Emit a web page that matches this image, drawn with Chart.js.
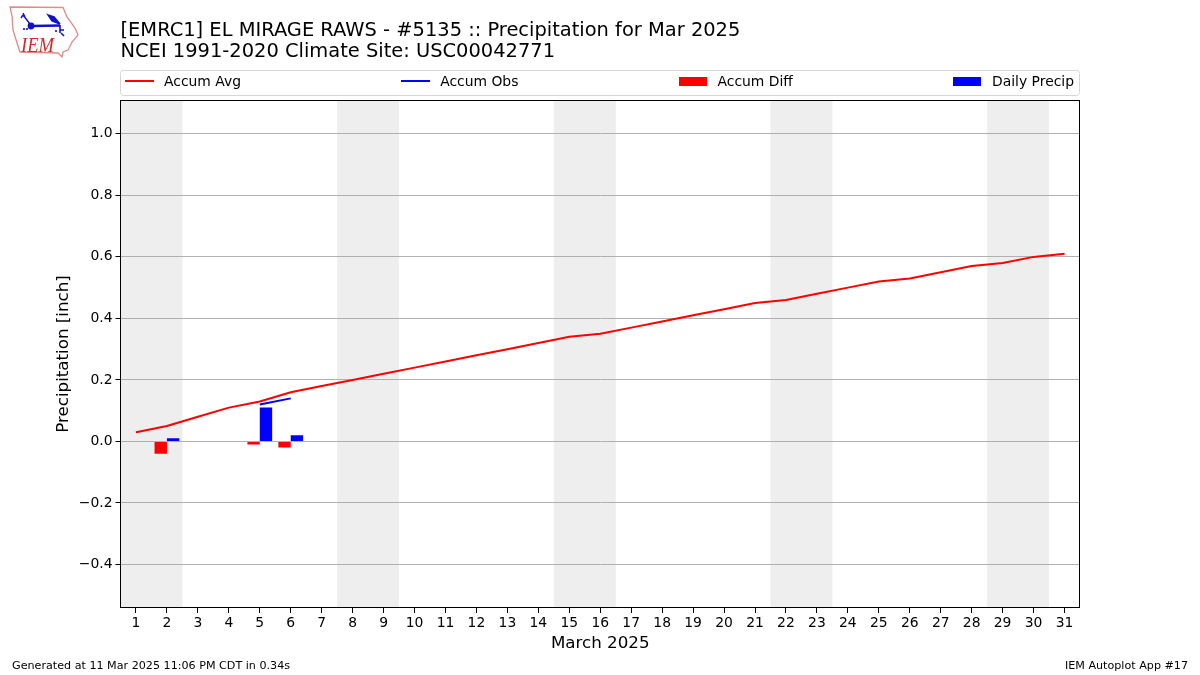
<!DOCTYPE html>
<html><head><meta charset="utf-8">
<style>html,body{margin:0;padding:0;background:#fff;overflow:hidden}#w{position:relative;width:1200px;height:675px}canvas{display:block}svg{position:absolute;left:0;top:0}</style>
<script src="https://cdn.jsdelivr.net/npm/chart.js@4"></script>
</head><body><div id="w"><canvas id="c" width="1200" height="675"></canvas>
<svg width="90" height="65" viewBox="0 0 90 65">
<path d="M10 7 L63 7.5 L67 17 L75 28 L78 35 L72 42 L68 50 L63 52 L62 57 L58 53 L20 52 L17 43 L13 30 L12 16 Z" fill="#fff" stroke="#e08a8a" stroke-width="1.3"/>
<g stroke="#1111cc" fill="#1111cc">
<path d="M32 26 L60 25.5" stroke-width="2.4"/><circle cx="31" cy="26" r="3.4" stroke="none"/>
<path d="M30 24 L23 15 M23 15 L21 18 M25 17 L23 13" stroke-width="1.4" fill="none"/>
<path d="M48 15 L54 17 L60 24 L52 21 Z" stroke-width="1.5"/>
<path d="M60 25 L60 33 M60 30 L64 30 M61 33 L64 36" stroke-width="1.6" fill="none"/>
<circle cx="24" cy="29" r="1.1" stroke="none"/><circle cx="27" cy="29" r="1.1" stroke="none"/><circle cx="56" cy="31" r="1.1" stroke="none"/>
</g>
<text x="21" y="52" font-family="Liberation Serif" font-style="italic" font-size="22" textLength="33" lengthAdjust="spacingAndGlyphs" fill="#d42a2a">IEM</text>
</svg></div>
<script>
const days = Array.from({length:31},(_, i)=>String(i+1));
const accumAvg = [0.03,0.05,0.08,0.11,0.13,0.16,0.18,0.20,0.22,0.24,0.26,0.28,0.30,0.32,0.34,0.35,0.37,0.39,0.41,0.43,0.45,0.46,0.48,0.50,0.52,0.53,0.55,0.57,0.58,0.60,0.61];
const accumObs = [null,null,null,null,0.12,0.14,null,null,null,null,null,null,null,null,null,null,null,null,null,null,null,null,null,null,null,null,null,null,null,null,null];
const accumDiff = [null,-0.04,null,null,-0.01,-0.02,null,null,null,null,null,null,null,null,null,null,null,null,null,null,null,null,null,null,null,null,null,null,null,null,null];
const dailyPrecip = [null,0.01,null,null,0.11,0.02,null,null,null,null,null,null,null,null,null,null,null,null,null,null,null,null,null,null,null,null,null,null,null,null,null];
const yTicks = [-0.4,-0.2,0,0.2,0.4,0.6,0.8,1.0];
const weekendSpans = [["1","2"],["8","9"],["15","16"],["22","23"],["29","30"]];
const titleLines = ["[EMRC1] EL MIRAGE RAWS - #5135 :: Precipitation for Mar 2025","NCEI 1991-2020 Climate Site: USC00042771"];
const footerLeft = "Generated at 11 Mar 2025 11:06 PM CDT in 0.34s";
const footerRight = "IEM Autoplot App #17";
const FONT = '"DejaVu Sans"';

const decor = {
  id:'decor',
  beforeDraw(ch){
    const {ctx,chartArea:a,scales:{x}} = ch;
    ctx.save(); ctx.fillStyle='#eeeeee';
    const band = x.getPixelForTick(1)-x.getPixelForTick(0);
    for(const [s,e] of weekendSpans){
      const x0 = Math.max(a.left, x.getPixelForValue(days.indexOf(s))-band/2);
      const x1 = x.getPixelForValue(days.indexOf(e))+band/2;
      ctx.fillRect(x0,a.top,x1-x0,a.bottom-a.top);
    }
    ctx.restore();
  },
  afterDraw(ch){
    const {ctx,chartArea:a} = ch;
    ctx.save();
    ctx.strokeStyle='#000'; ctx.lineWidth=1;
    ctx.strokeRect(120.5,100.5,959,507);
    ctx.strokeStyle='#d6d6d6'; ctx.lineWidth=1;
    ctx.beginPath(); ctx.roundRect(120.5,70.5,959,25,3); ctx.fillStyle='#fff'; ctx.fill(); ctx.stroke();
    ctx.font='13.9px '+FONT; ctx.textBaseline='middle'; ctx.textAlign='left';
    const itemsW = ch.data.datasets.map(d=>29+9+ctx.measureText(d.label).width);
    const total = itemsW.reduce((p,c)=>p+c,0);
    const gap = (1080-6 - 126 - total)/3;
    let cx = 126;
    ch.data.datasets.forEach((d,i)=>{
      const hx = Math.round(cx)-1;
      if(d.type==='line'){ ctx.strokeStyle=d.borderColor; ctx.lineWidth=2; ctx.beginPath(); ctx.moveTo(hx,81); ctx.lineTo(hx+29,81); ctx.stroke(); }
      else { ctx.fillStyle=d.backgroundColor; ctx.fillRect(hx,77,28,9); }
      ctx.fillStyle='#000'; ctx.fillText(d.label,cx+38,82);
      cx += itemsW[i]+gap;
    });
    ctx.font='11.15px '+FONT; ctx.fillStyle='#000'; ctx.textBaseline='middle';
    ctx.textAlign='left'; ctx.fillText(footerLeft,12,666);
    ctx.textAlign='right'; ctx.fillText(footerRight,1188,666);
    ctx.restore();
  }
};

new Chart(document.getElementById('c'),{
  type:'bar',
  plugins:[decor],
  data:{labels:days,datasets:[
    {type:'line',label:'Accum Avg',data:accumAvg,borderColor:'#ff0000',backgroundColor:'#ff0000',borderWidth:2,pointRadius:0,tension:0,spanGaps:false},
    {type:'line',label:'Accum Obs',data:accumObs,borderColor:'#0000ff',backgroundColor:'#0000ff',borderWidth:2,pointRadius:0,tension:0,spanGaps:false},
    {type:'bar',label:'Accum Diff',data:accumDiff,backgroundColor:'#ff0000',borderWidth:0,categoryPercentage:0.8,barPercentage:1},
    {type:'bar',label:'Daily Precip',data:dailyPrecip,backgroundColor:'#0000ff',borderWidth:0,categoryPercentage:0.8,barPercentage:1}
  ]},
  options:{
    responsive:false,animation:false,devicePixelRatio:1,
    layout:{padding:{left:50,right:120,top:12,bottom:17}},
    plugins:{
      legend:{display:false},tooltip:{enabled:false},
      title:{display:true,text:titleLines,align:'start',fullSize:false,color:'#000',
        font:{family:FONT,size:19.45,weight:'normal',lineHeight:1.08},padding:{top:8,bottom:38}}
    },
    scales:{
      x:{type:'category',offset:true,
        grid:{offset:false,drawOnChartArea:false,drawTicks:true,tickLength:5,tickColor:'#000'},
        border:{display:false},
        ticks:{color:'#000',font:{family:FONT,size:13.9},maxRotation:0,autoSkip:false,padding:2},
        title:{display:true,text:'March 2025',color:'#000',font:{family:FONT,size:16.7},padding:{top:0,bottom:4}},
        afterFit(s){s.height=50;}
      },
      y:{type:'linear',min:-0.5415,max:1.11,
        afterBuildTicks(s){s.ticks=yTicks.map(v=>({value:v}));},
        grid:{color:'#b0b0b0',lineWidth:1,tickLength:5,tickColor:'#000'},
        border:{display:false},
        ticks:{color:'#000',font:{family:FONT,size:13.9},padding:3,
          callback(v){return (v<0?'\u2212':'')+Math.abs(v).toFixed(1);}},
        title:{display:true,text:'Precipitation [inch]',color:'#000',font:{family:FONT,size:16.7},padding:{top:4,bottom:0}},
        afterFit(s){s.width=70.5;}
      }
    }
  }
});
</script></body></html>
